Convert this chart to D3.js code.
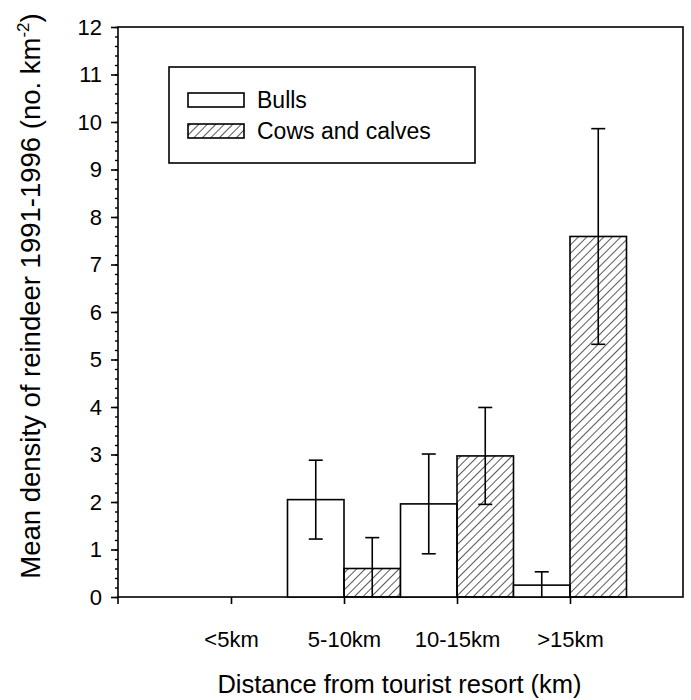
<!DOCTYPE html>
<html>
<head>
<meta charset="utf-8">
<script src="https://cdn.jsdelivr.net/npm/d3@7"></script>
<style>
  body { margin: 0; background: #fff; }
  svg { font-family: Arial, "Liberation Sans", sans-serif; }
</style>
</head>
<body>
<div id="chart"></div>
<script>
// data
const categories = ["<5km", "5-10km", "10-15km", ">15km"];
const bulls = [0, 2.05, 1.96, 0.25];
const bullsErr = [0, 0.83, 1.05, 0.28];
const cows = [0, 0.60, 2.97, 7.59];
const cowsErr = [0, 0.65, 1.02, 2.27];
const yTicks = d3.range(0, 13);

const width = 691, height = 700;
const plot = {left: 118, right: 683, top: 27, bottom: 597};

const svg = d3.select("#chart").append("svg")
    .attr("width", width)
    .attr("height", height);

// hatch pattern for cows and calves
svg.append("defs").append("pattern")
    .attr("id", "hatch")
    .attr("patternUnits", "userSpaceOnUse")
    .attr("width", 6)
    .attr("height", 6)
    .attr("patternTransform", "rotate(45)")
  .append("line")
    .attr("x1", 0).attr("y1", 0)
    .attr("x2", 0).attr("y2", 6)
    .attr("stroke", "#000")
    .attr("stroke-width", 1.3);

const x = d3.scalePoint()
    .domain(categories)
    .range([plot.left, plot.right])
    .padding(1);

const y = d3.scaleLinear()
    .domain([0, 12])
    .range([plot.bottom, plot.top]);

const barW = x.step() / 2;

// frame
svg.append("rect")
    .attr("x", plot.left)
    .attr("y", plot.top)
    .attr("width", plot.right - plot.left)
    .attr("height", plot.bottom - plot.top)
    .attr("fill", "none")
    .attr("stroke", "#000")
    .attr("stroke-width", 1.6);

// minor y ticks
svg.append("g")
    .attr("transform", `translate(${plot.left},0)`)
    .call(d3.axisLeft(y).tickValues(d3.range(0, 12.01, 0.2)).tickSize(3).tickFormat(""))
    .call(g => g.select(".domain").remove())
    .selectAll("line").attr("stroke-width", 1.4);

// major y ticks
svg.append("g")
    .attr("transform", `translate(${plot.left},0)`)
    .call(d3.axisLeft(y).tickValues(yTicks).tickSize(7).tickPadding(9))
    .call(g => g.select(".domain").remove())
    .call(g => g.selectAll("line").attr("stroke-width", 1.6))
    .call(g => g.selectAll("text").attr("font-size", 22).attr("font-family", "Arial, 'Liberation Sans', sans-serif").attr("fill", "#000"));

// bars
const groups = svg.append("g").selectAll("g")
    .data(categories)
    .join("g");

groups.append("rect")
    .attr("x", d => x(d) - barW)
    .attr("y", (d, i) => y(bulls[i]))
    .attr("width", barW)
    .attr("height", (d, i) => y(0) - y(bulls[i]))
    .attr("fill", "#fff")
    .attr("stroke", "#000")
    .attr("stroke-width", 1.6);

groups.append("rect")
    .attr("x", d => x(d))
    .attr("y", (d, i) => y(cows[i]))
    .attr("width", barW)
    .attr("height", (d, i) => y(0) - y(cows[i]))
    .attr("fill", "url(#hatch)")
    .attr("stroke", "#000")
    .attr("stroke-width", 1.6);

// error bars
const errs = [];
categories.forEach((c, i) => {
    if (bulls[i] > 0) errs.push({cx: x(c) - barW / 2, v: bulls[i], e: bullsErr[i]});
    if (cows[i] > 0) errs.push({cx: x(c) + barW / 2, v: cows[i], e: cowsErr[i]});
});
const cap = 7;
const eb = svg.append("g").attr("stroke", "#000").attr("stroke-width", 1.6);
errs.forEach(d => {
    const hi = d.v + d.e, lo = Math.max(0, d.v - d.e);
    eb.append("line").attr("x1", d.cx).attr("x2", d.cx).attr("y1", y(hi)).attr("y2", y(lo));
    eb.append("line").attr("x1", d.cx - cap).attr("x2", d.cx + cap).attr("y1", y(hi)).attr("y2", y(hi));
    if (d.v - d.e > 0)
        eb.append("line").attr("x1", d.cx - cap).attr("x2", d.cx + cap).attr("y1", y(lo)).attr("y2", y(lo));
});

// x axis
svg.append("g")
    .attr("transform", `translate(0,${plot.bottom})`)
    .call(d3.axisBottom(x).tickSize(7).tickPadding(27))
    .call(g => g.select(".domain").remove())
    .call(g => g.selectAll("line").attr("stroke-width", 1.6))
    .call(g => g.selectAll("text").attr("font-size", 22).attr("font-family", "Arial, 'Liberation Sans', sans-serif").attr("fill", "#000"));

svg.append("line")
    .attr("x1", plot.left).attr("x2", plot.left)
    .attr("y1", plot.bottom).attr("y2", plot.bottom + 7)
    .attr("stroke", "#000").attr("stroke-width", 1.6);

// axis titles
svg.append("text")
    .attr("x", (plot.left + plot.right) / 2 - 1)
    .attr("y", 693)
    .attr("text-anchor", "middle")
    .attr("font-size", 25.5)
    .text("Distance from tourist resort (km)");

const yt = svg.append("text")
    .attr("transform", `translate(40,296) rotate(-90)`)
    .attr("text-anchor", "middle")
    .attr("font-size", 27.5)
    .text("Mean density of reindeer 1991-1996 (no. km");
yt.append("tspan").attr("font-size", 17).attr("dy", -11).text("-2");
yt.append("tspan").attr("dy", 11).text(")");

// legend
const leg = svg.append("g");
leg.append("rect")
    .attr("x", 169).attr("y", 67)
    .attr("width", 306).attr("height", 96)
    .attr("fill", "#fff")
    .attr("stroke", "#000")
    .attr("stroke-width", 1.6);

const legItems = [
    {label: "Bulls", fill: "#fff"},
    {label: "Cows and calves", fill: "url(#hatch)"}
];
legItems.forEach((d, i) => {
    const yy = 93 + i * 31;
    leg.append("rect")
        .attr("x", 188).attr("y", yy)
        .attr("width", 56).attr("height", 14)
        .attr("fill", d.fill)
        .attr("stroke", "#000")
        .attr("stroke-width", 1.6);
    leg.append("text")
        .attr("x", 257).attr("y", yy + 15)
        .attr("font-size", 23)
        .text(d.label);
});
</script>
</body>
</html>
